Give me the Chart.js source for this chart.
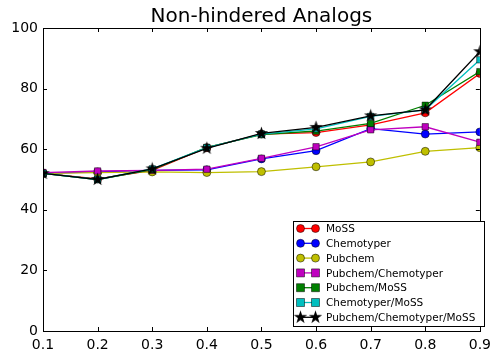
<!DOCTYPE html>
<html>
<head>
<meta charset="utf-8">
<script src="https://cdn.jsdelivr.net/npm/chart.js@4.4.1/dist/chart.umd.min.js"></script>
<style>
  html, body { margin: 0; padding: 0; background: #fff; }
  #wrap { width: 497px; height: 361px; }
</style>
</head>
<body>
<div id="wrap"><canvas id="chart" width="497" height="361"></canvas></div>
<script>
// ========================== DATA ==========================
const titleText = "Non-hindered Analogs";
const xValues = [0.1, 0.2, 0.3, 0.4, 0.5, 0.6, 0.7, 0.8, 0.9];

const seriesNames = [
  "MoSS", "Chemotyper", "Pubchem", "Pubchem/Chemotyper",
  "Pubchem/MoSS", "Chemotyper/MoSS", "Pubchem/Chemotyper/MoSS"
];
const moss              = [52.0, 50.2, 53.0, 60.5, 65.0, 65.5, 68.0, 72.0, 85.0];
const chemotyper        = [52.0, 52.5, 53.0, 53.2, 56.8, 59.5, 66.8, 65.0, 65.7];
const pubchem           = [52.0, 52.3, 52.5, 52.3, 52.6, 54.2, 55.8, 59.3, 60.5];
const pubchemChemotyper = [52.3, 52.8, 53.0, 53.4, 57.0, 60.8, 66.4, 67.4, 62.3];
const pubchemMoss       = [52.0, 50.0, 53.3, 60.6, 64.8, 66.0, 68.5, 74.5, 85.6];
const chemotyperMoss    = [52.0, 50.0, 53.5, 60.5, 65.0, 66.7, 70.8, 73.0, 89.5];
const allThree          = [52.0, 50.0, 53.5, 60.3, 65.2, 67.2, 71.0, 73.0, 92.2];

const yTicks = [0, 20, 40, 60, 80, 100];

// ========================== STYLE ==========================
const colors = ["#ff0000", "#0000ff", "#bfbf00", "#bf00bf", "#008000", "#00bfbf", "#000000"];
const markers = ["circle", "circle", "circle", "rect", "rect", "rect", "star"];
const FONT = "'DejaVu Sans', sans-serif";

// filled 5-point star (Chart.js only has a stroked one)
function makeStar(size) {
  const c = document.createElement("canvas");
  c.width = size; c.height = size;
  const ctx = c.getContext("2d");
  const cx = size / 2, cy = size / 2, R = size / 2 - 0.5, r = R * 0.382;
  ctx.beginPath();
  for (let i = 0; i < 10; i++) {
    const a = -Math.PI / 2 + i * Math.PI / 5;
    const rad = i % 2 ? r : R;
    ctx.lineTo(cx + rad * Math.cos(a), cy + rad * Math.sin(a));
  }
  ctx.closePath();
  ctx.fillStyle = "#000";
  ctx.fill();
  return c;
}
const starImg = makeStar(15);

const allSeries = [moss, chemotyper, pubchem, pubchemChemotyper, pubchemMoss, chemotyperMoss, allThree];

const datasets = allSeries.map((vals, i) => ({
  label: seriesNames[i],
  data: vals.map((v, k) => ({ x: xValues[k], y: v })),
  borderColor: colors[i],
  backgroundColor: colors[i],
  borderWidth: 1.3,
  pointStyle: markers[i] === "star" ? starImg : markers[i],
  pointRadius: markers[i] === "rect" ? 4.5 : 4,
  pointBorderColor: "#000",
  pointBorderWidth: 0.5,
  tension: 0,
  clip: 0,
  order: allSeries.length - i
}));

// ========================== FRAME / TICKS / LEGEND ==========================
const decor = {
  id: "decor",
  afterDatasetsDraw(chart) {
    const { ctx, chartArea: a, scales } = chart;
    ctx.save();
    ctx.strokeStyle = "#000";
    ctx.lineWidth = 1;
    ctx.beginPath();
    xValues.forEach(v => {
      const px = Math.round(scales.x.getPixelForValue(v)) + 0.5;
      ctx.moveTo(px, a.bottom); ctx.lineTo(px, a.bottom - 4);
      ctx.moveTo(px, a.top); ctx.lineTo(px, a.top + 4);
    });
    yTicks.forEach(v => {
      const py = Math.round(scales.y.getPixelForValue(v)) + 0.5;
      ctx.moveTo(a.left, py); ctx.lineTo(a.left + 4, py);
      ctx.moveTo(a.right, py); ctx.lineTo(a.right - 4, py);
    });
    ctx.stroke();
    ctx.strokeRect(Math.round(a.left) + 0.5, Math.round(a.top) + 0.5,
      Math.round(a.right - a.left), Math.round(a.bottom - a.top));
    ctx.restore();
  },
  afterDraw(chart) {
    const { ctx, chartArea: a } = chart;
    ctx.save();
    // title
    ctx.fillStyle = "#000";
    ctx.font = "20px " + FONT;
    ctx.textAlign = "center";
    ctx.textBaseline = "alphabetic";
    ctx.fillText(titleText, (a.left + a.right) / 2, 22);

    // legend box
    const bx = 293.5, by = 221.5, bw = 191, bh = 105;
    ctx.fillStyle = "#fff";
    ctx.fillRect(bx, by, bw, bh);
    ctx.strokeStyle = "#000";
    ctx.lineWidth = 1;
    ctx.strokeRect(bx, by, bw, bh);

    ctx.font = "10.5px " + FONT;
    ctx.textAlign = "left";
    ctx.textBaseline = "middle";
    seriesNames.forEach((name, i) => {
      const y = 228.5 + i * 14.8;
      const x1 = 300.5, x2 = 315.5;
      ctx.strokeStyle = colors[i];
      ctx.lineWidth = 1.3;
      ctx.beginPath(); ctx.moveTo(x1, y); ctx.lineTo(x2, y); ctx.stroke();
      [x1, x2].forEach(x => {
        if (markers[i] === "star") {
          ctx.drawImage(starImg, x - 7.5, y - 7.5);
        } else {
          ctx.fillStyle = colors[i];
          ctx.strokeStyle = "#000";
          ctx.lineWidth = 0.5;
          ctx.beginPath();
          if (markers[i] === "circle") ctx.arc(x, y, 4, 0, Math.PI * 2);
          else ctx.rect(x - 4, y - 4, 8, 8);
          ctx.fill(); ctx.stroke();
        }
      });
      ctx.fillStyle = "#000";
      ctx.fillText(name, 326, y + 1);
    });
    ctx.restore();
  }
};

// ========================== CHART ==========================
new Chart(document.getElementById("chart"), {
  type: "line",
  data: { datasets },
  options: {
    responsive: false,
    animation: false,
    devicePixelRatio: 1,
    layout: { padding: { top: 28, right: 9, left: 0, bottom: 0 } },
    plugins: { legend: { display: false }, title: { display: false }, tooltip: { enabled: false } },
    scales: {
      x: {
        type: "linear",
        min: 0.1, max: 0.9,
        afterFit: s => { s.height = 30; },
        afterBuildTicks: s => { s.ticks = xValues.map(v => ({ value: v })); },
        ticks: {
          callback: v => v.toFixed(1),
          color: "#000", padding: 6,
          font: { family: FONT, size: 14 },
          maxRotation: 0, autoSkip: false
        },
        grid: { display: false, drawTicks: false },
        border: { display: false }
      },
      y: {
        min: 0, max: 100,
        afterFit: s => { s.width = 43; },
        afterBuildTicks: s => { s.ticks = yTicks.map(v => ({ value: v })); },
        ticks: {
          color: "#000", padding: 5,
          font: { family: FONT, size: 14 }
        },
        grid: { display: false, drawTicks: false },
        border: { display: false }
      }
    }
  },
  plugins: [decor]
});
</script>
</body>
</html>
